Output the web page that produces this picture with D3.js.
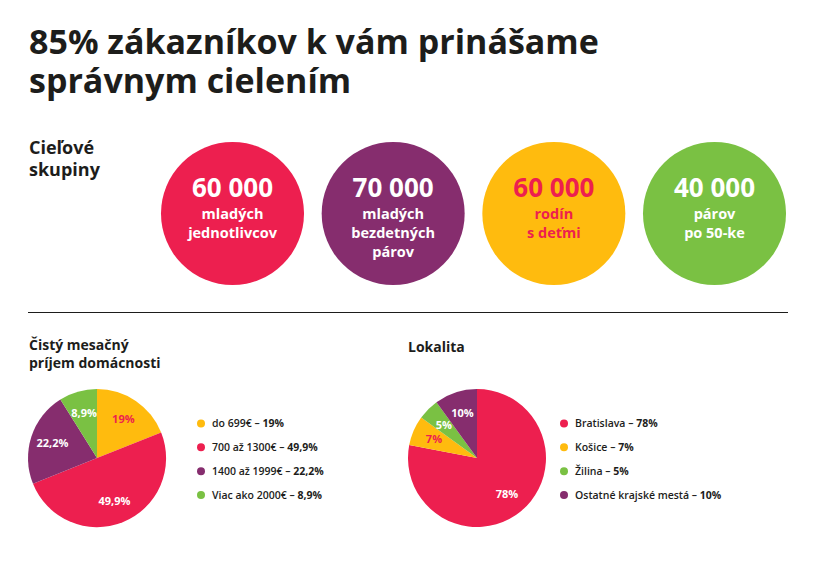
<!DOCTYPE html>
<html><head><meta charset="utf-8">
<script src="https://cdn.jsdelivr.net/npm/d3@7"></script>
<style>html,body{margin:0;padding:0;background:#fff}svg{display:block}text{font-family:"Open Sans",sans-serif}</style>
</head><body><svg id="c" width="816" height="567"></svg>
<script>
const titleLines=["85% zákazníkov k vám prinášame","správnym cielením"];
const groupHeading=["Cieľové","skupiny"];
const groupCounts=["60 000","70 000","60 000","40 000"];
const groupLabels=[["mladých","jednotlivcov"],["mladých","bezdetných","párov"],["rodín","s deťmi"],["párov","po 50-ke"]];
const groupFill=["#ed1f4f","#862d6e","#ffbb0e","#7ac143"];
const groupInk=["#ffffff","#ffffff","#ed1f4f","#ffffff"];
const incomeHeading=["Čistý mesačný","príjem domácnosti"];
const incomeNames=["do 699€","700 až 1300€","1400 až 1999€","Viac ako 2000€"];
const incomeValues=[19,49.9,22.2,8.9];
const incomeTexts=["19%","49,9%","22,2%","8,9%"];
const incomeFill=["#ffbb0e","#ed1f4f","#862d6e","#7ac143"];
const incomeInk=["#ed1f4f","#fff","#fff","#fff"];
const placeHeading=["Lokalita"];
const placeNames=["Bratislava","Košice","Žilina","Ostatné krajské mestá"];
const placeValues=[78,7,5,10];
const placeTexts=["78%","7%","5%","10%"];
const placeFill=["#ed1f4f","#ffbb0e","#7ac143","#862d6e"];
const placeInk=["#fff","#ed1f4f","#fff","#fff"];

const svg=d3.select("#c"), ink="#1d1d1b";
svg.selectAll(".t").data(titleLines).join("text").attr("x",29).attr("y",(d,i)=>54+i*39)
 .attr("font-size",34).attr("font-weight",700).attr("fill",ink).text(d=>d);
svg.selectAll(".g").data(groupHeading).join("text").attr("x",29).attr("y",(d,i)=>154+i*22)
 .attr("font-size",18).attr("font-weight",700).attr("fill",ink).text(d=>d);
const cx=d3.scalePoint().domain(d3.range(4)).range([232.5,714.5]);
const g=svg.selectAll(".b").data(groupCounts).join("g").attr("transform",(d,i)=>`translate(${cx(i)},213.5)`);
g.append("circle").attr("r",71.5).attr("fill",(d,i)=>groupFill[i]);
g.append("text").attr("text-anchor","middle").attr("y",-17).attr("font-size",26).attr("font-weight",700).attr("fill",(d,i)=>groupInk[i]).text(d=>d);
g.each(function(d,i){d3.select(this).selectAll(".l").data(groupLabels[i]).join("text").attr("text-anchor","middle")
 .attr("y",(s,j)=>5+j*19).attr("font-size",14.5).attr("font-weight",700).attr("fill",groupInk[i]).text(s=>s);});
svg.append("line").attr("x1",28).attr("x2",788).attr("y1",312.5).attr("y2",312.5).attr("stroke",ink);
function pie(x,y,r,hx,hy,heading,names,vals,texts,fill,inkC,lx,ly){
 heading.forEach((h,i)=>svg.append("text").attr("x",hx).attr("y",hy+i*18).attr("font-size",14).attr("font-weight",700).attr("fill",ink).text(h));
 const arcs=d3.pie().sort(null)(vals), arc=d3.arc().innerRadius(0).outerRadius(r), la=d3.arc().innerRadius(r*.68).outerRadius(r*.68);
 const p=svg.append("g").attr("transform",`translate(${x},${y})`);
 p.selectAll("path").data(arcs).join("path").attr("d",arc).attr("fill",(d,i)=>fill[i]);
 p.selectAll("text").data(arcs).join("text").attr("transform",d=>`translate(${la.centroid(d)})`).attr("text-anchor","middle").attr("dy","0.35em")
  .attr("font-size",11).attr("font-weight",700).attr("fill",(d,i)=>inkC[i]).text((d,i)=>texts[i]);
 const l=d3.scalePoint().domain(d3.range(4)).range([ly,ly+71.5]);
 names.forEach((n,i)=>{svg.append("circle").attr("cx",lx).attr("cy",l(i)).attr("r",4).attr("fill",fill[i]);
  const t=svg.append("text").attr("x",lx+11).attr("y",l(i)).attr("dy","0.35em").attr("font-size",10.5).attr("font-weight",600).attr("fill",ink);
  t.append("tspan").text(n+" – "); t.append("tspan").attr("font-weight",700).text(texts[i]);});
}
pie(97,458,69,29,350,incomeHeading,incomeNames,incomeValues,incomeTexts,incomeFill,incomeInk,201,423.5);
pie(477,458,69,408,352,placeHeading,placeNames,placeValues,placeTexts,placeFill,placeInk,564,423.5);
</script></body></html>
